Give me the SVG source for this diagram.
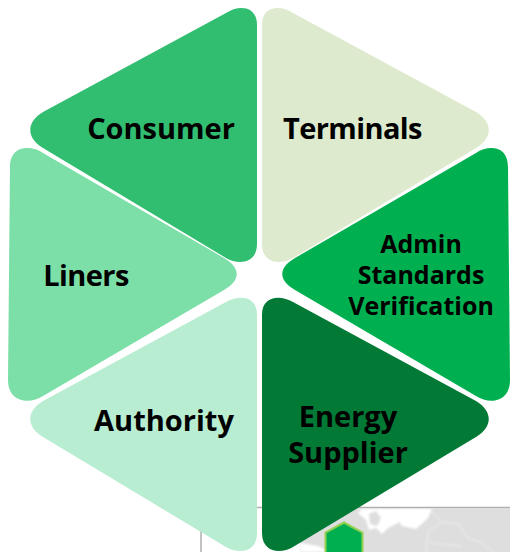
<svg xmlns="http://www.w3.org/2000/svg" width="510" height="552" viewBox="0 0 510 552">
<defs><filter id="soft" x="-5%" y="-5%" width="110%" height="110%"><feGaussianBlur stdDeviation="0.8"/></filter></defs>
<style>
text{font-family:"Open Sans","Noto Sans","DejaVu Sans",sans-serif;font-weight:700;fill:#000;text-anchor:middle}
.l{font-size:29px}
.s{font-size:25px}
.b{stroke:#b0b0b0;stroke-width:1.500;fill:none}
.land{fill:#dedede}
.sea{fill:#fff}
.border{fill:none;stroke:#efefef;stroke-width:1}
</style>
<rect width="510" height="552" fill="#fff"/>
<g id="map">
<path class="land" d="M300 508.500H510V552H300Z"/>
<g filter="url(#soft)">
<path class="sea" d="M300 508.500H362L358 513L366 520L369 530L376 528L382 534L388 528L398 523L404 518L422 524L428 516L431 508.500Z"/>
<path class="land" d="M369 514L376 511L381 518L377 526L370 524Z"/>
<path class="sea" d="M300 543L318 546L330 552H300Z"/>
<path class="sea" d="M400 508.500L432 509L428 518L416 529L402 526L397 518Z"/>
<path class="border" d="M430 510L442 522L458 524L468 538L480 542L494 552M428 532L426 552M428 532L442 522M430 543L462 546"/>
</g>
<path class="b" d="M201 552V507.500H510"/>
<path d="M344 522.500L362.500 532.500V553H325.500V532.500Z" fill="#00b050" stroke="#92d050" stroke-width="2"/>
</g>
<g id="node-consumer">
<path d="M226 13C238 5 257 5 257 25V244C257 264 238 265 226 258L43 148C26 138 26 122 43 112Z" fill="#32be71"/>
<text class="l" x="161" y="139">Consumer</text>
</g>
<g id="node-terminals">
<path d="M293 13C281 5 262 5 262 25V244C262 264 281 265 293 258L476 148C493 138 493 122 476 112Z" fill="#deeacd"/>
<text class="l" x="352.500" y="139" letter-spacing="-0.600">Terminals</text>
</g>
<g id="node-admin">
<path d="M476 153C488 145 508 145 508 167L510 380C510 402 490 405 476 396L295 290C278 280 278 268 295 258Z" fill="#00b050"/>
<text class="s" x="421" y="253">Admin</text>
<text class="s" x="421" y="284">Standards</text>
<text class="s" x="421" y="315">Verification</text>
</g>
<g id="node-liners">
<path d="M43 153C31 145 10 145 10 167L8 380C8 402 29 405 43 396L224 290C241 280 241 268 224 258Z" fill="#7cdfa7"/>
<text class="l" x="86" y="286" letter-spacing="-0.600">Liners</text>
</g>
<g id="node-authority">
<path d="M226 302C238 295 257 295 257 315V533C257 553 238 554 226 547L43 437C26 427 26 411 43 401Z" fill="#b8edd2"/>
<text class="l" x="164" y="431">Authority</text>
</g>
<g id="node-energy">
<path d="M293 302C281 295 262 295 262 315V533C262 553 281 554 293 547L476 437C493 427 493 411 476 401Z" fill="#027a36"/>
<text class="l" x="348" y="427">Energy</text>
<text class="l" x="348" y="463" font-size="30">Supplier</text>
</g>
<g id="connectors"/>
</svg>
